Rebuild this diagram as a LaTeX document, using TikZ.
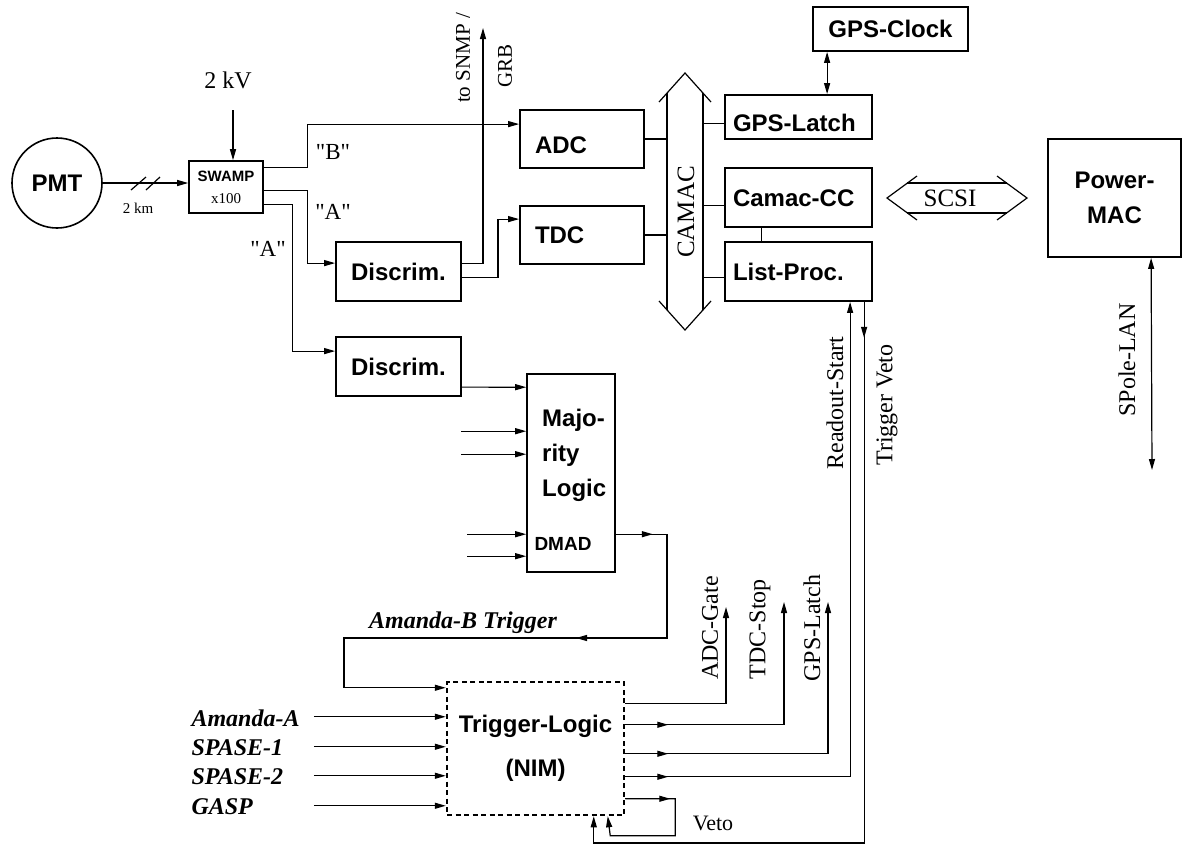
\documentclass[tikz,border=0pt]{standalone}
\usepackage{fontspec}
\setmainfont{Liberation Serif}
\setsansfont{Liberation Sans}
\newfontfamily\qfont{Liberation Serif}
\usetikzlibrary{arrows.meta,calc}
\newcommand{\myfs}[1]{\fontsize{#1}{#1}\selectfont}
\tikzset{
 conn/.style={line width=1.2pt},
 arr/.style={conn, -{Triangle[length=11pt,width=6pt]}},
 darr/.style={conn, {Triangle[length=11pt,width=6pt]}-{Triangle[length=11pt,width=6pt]}},
 box/.style={draw, line width=1.8pt, inner sep=0pt, font=\sffamily\bfseries\myfs{24}},
 lbox/.style={box, align=left, text height=17pt, text depth=0pt},
 bi/.style={font=\bfseries\itshape\myfs{24}},
 quo/.style={font=\qfont\myfs{23}},
}
\begin{document}
\begin{tikzpicture}[x=1pt,y=-1pt]
\fill[white] (0,0) rectangle (1188,844);
\useasboundingbox (0,0) rectangle (1188,844);

% PMT and SWAMP
\node[circle, draw, line width=1.6pt, minimum size=90pt, inner sep=0pt, font=\sffamily\bfseries\myfs{24}] (pmt) at (57,183) {PMT};
\node[box, line width=1.6pt, minimum width=74pt, minimum height=52pt, align=center, font=\myfs{15}] (swamp) at (226,187) {\textsf{\bfseries SWAMP}\\[7pt]x100};
\draw[arr] (pmt.east) -- (pmt.east -| swamp.west);
\draw[conn] (131,190) -- (146,177);
\draw[conn] (146,190) -- (160,177);
\node[font=\myfs{15}] (km) at (138,208) {2 km};
\node[font=\myfs{24}] (kv) at (228,80) {2 kV};
\coordinate (hv) at (233,110);
\draw[arr] (hv) -- (hv |- swamp.north);

% Discriminators
\node[box, minimum width=125pt, minimum height=59pt] (disc1) at (398.5,271.5) {Discrim.};
\node[box, minimum width=125pt, minimum height=59pt] (disc2) at (398.5,366.5) {Discrim.};

% ADC / TDC
\node[lbox, minimum width=124pt, minimum height=58pt, text width=94pt, inner xsep=15pt] (adc) at (582,139) {\raisebox{-6pt}{ADC}};
\node[lbox, minimum width=124pt, minimum height=58pt, text width=94pt, inner xsep=15pt] (tdc) at (582,235) {TDC};

% SWAMP outputs
\draw[arr] ($(swamp.north east)+(0,7)$) -- ++(44,0) |- ($(adc.north west)+(0,15)$);
\draw[arr] ($(swamp.north east)+(0,30)$) -- ++(44,0) |- ($(disc1.north west)+(0,22)$);
\draw[arr] ($(swamp.north east)+(0,44)$) -- ++(29,0) |- ($(disc2.north west)+(0,15)$);
\node[quo] (lB) at (333,152) {"B"};
\node[quo] (lA1) at (333,212) {"A"};
\node[quo] (lA2) at (268,249) {"A"};

% to SNMP / GRB
\coordinate (snmp) at (483,28);
\draw[arr] ($(disc1.north east)+(0,22)$) -| (snmp);
\node[rotate=90, font=\myfs{21}] (tsnmp) at (463,58) {to SNMP /};
\node[rotate=90, font=\myfs{21}] (tgrb) at (505,66) {GRB};
\draw[arr] ($(disc1.north east)+(0,36)$) -- ++(36,0) |- ($(tdc.north west)+(0,14)$);

% CAMAC bus
\draw[conn] (659,102) -- (685,73) -- (711,102);
\draw[conn] (659,301) -- (685,330) -- (711,301);
\draw[conn] (667,93) -- (667,310);
\draw[conn] (703,93) -- (703,310);
\coordinate (camL) at (667,200);
\coordinate (camR) at (703,200);
\node[rotate=90, font=\myfs{25}] (camac) at (686,212) {CAMAC};
\draw[conn] (adc.east) -- (adc.east -| camL);
\draw[conn] (tdc.east) -- (tdc.east -| camL);

% right column boxes
\node[lbox, minimum width=147pt, minimum height=44pt, text width=131pt, inner xsep=8pt] (gpsl) at (798.5,117) {\raisebox{-6pt}{GPS-Latch}};
\node[lbox, minimum width=147pt, minimum height=59pt, text width=131pt, inner xsep=8pt] (camcc) at (798.5,197.5) {Camac-CC};
\node[lbox, minimum width=147pt, minimum height=59pt, text width=131pt, inner xsep=8pt] (listp) at (798.5,271.5) {List-Proc.};
\draw[conn] ($(gpsl.north west)+(0,29)$) -- ++(-22,0);
\draw[conn] ($(camcc.north west)+(0,38)$) -- ++(-22,0);
\draw[conn] ($(listp.north west)+(0,36)$) -- ++(-22,0);
\draw[conn] ($(camcc.south west)+(37,0)$) -- ($(listp.north west)+(37,0)$);

\node[box, minimum width=155pt, minimum height=44pt] (gpsc) at (890.5,29) {GPS-Clock};
\draw[darr] ($(gpsc.south west)+(15,0)$) -- ($(gpsl.north west)+(103,0)$);

% SCSI
\draw[conn] (917,176) -- (887,198) -- (917,220);
\draw[conn] (997,176) -- (1027,198) -- (997,220);
\draw[conn] (907,183) -- (1007,183);
\draw[conn] (907,213) -- (1007,213);
\node[font=\myfs{25}] (scsi) at (950,198) {SCSI};

% Power-MAC
\node[box, minimum width=133pt, minimum height=118pt, align=center, font=\sffamily\bfseries\fontsize{24}{35}\selectfont] (pmac) at (1114.5,198) {Power-\\MAC};
\coordinate (lan) at (1152,470);
\draw[darr] ($(pmac.south west)+(104,0)$) -- (lan);
\node[rotate=90, font=\myfs{24}] (lantxt) at (1127,360) {SPole-LAN};

% Majority logic
\node[draw, line width=1.6pt, minimum width=88pt, minimum height=198pt] (maj) at (571,473) {};
\node[anchor=west, align=left, inner sep=0pt, font=\sffamily\bfseries\fontsize{24}{35}\selectfont] (majt) at (542,455) {Majo-\\rity\\Logic};
\node[font=\sffamily\bfseries\myfs{19}] (dmad) at (563,544) {DMAD};
\draw[arr] ($(disc2.north east)+(0,51)$) -- ($(maj.north west)+(0,14)$);
\draw[arr] ($(maj.north west)+(-65,58)$) -- ++(65,0);
\draw[arr] ($(maj.north west)+(-65,81)$) -- ++(65,0);
\draw[arr] ($(maj.north west)+(-59,161)$) -- ++(59,0);
\draw[arr] ($(maj.north west)+(-59,183)$) -- ++(59,0);

% Trigger logic
\node[draw, line width=2.5pt, dash pattern=on 5pt off 3.5pt, minimum width=177pt, minimum height=133pt, align=center, font=\sffamily\bfseries\fontsize{24}{44}\selectfont] (trig) at (535.5,748.5) {Trigger-Logic\\(NIM)};

% Amanda-B trigger loop
\coordinate (abR) at (667,638);
\coordinate (abL) at (344,638);
\draw[arr] ($(maj.north east)+(0,161)$) -| (abR) -- (abL) |- ($(trig.north west)+(0,7)$);
\draw[arr] ($(maj.north east)+(0,161)$) -- ++(37,0);
\draw[arr] (abR) -- ++(-91,0);
\node[bi] (abtxt) at (463,623) {Amanda-B Trigger};

% external inputs
\node[bi, anchor=west] (iA) at (188,718) {Amanda-A};
\node[bi, anchor=west] (iS1) at (188,748) {SPASE-1};
\node[bi, anchor=west] (iS2) at (188,777) {SPASE-2};
\node[bi, anchor=west] (iG) at (188,807) {GASP};
\draw[arr] ($(trig.north west)+(-132,36)$) -- ++(132,0);
\draw[arr] ($(trig.north west)+(-132,66)$) -- ++(132,0);
\draw[arr] ($(trig.north west)+(-132,95)$) -- ++(132,0);
\draw[arr] ($(trig.north west)+(-132,125)$) -- ++(132,0);

% trigger outputs
\coordinate (adcg) at (726,607);
\coordinate (tdcs) at (784,602);
\coordinate (gpsls) at (828,602);
\draw[arr] ($(trig.north east)+(0,23)$) -| (adcg);
\draw[arr] ($(trig.north east)+(0,44)$) -| (tdcs);
\draw[arr] ($(trig.north east)+(0,44)$) -- ++(43,0);
\draw[arr] ($(trig.north east)+(0,73)$) -| (gpsls);
\draw[arr] ($(trig.north east)+(0,73)$) -- ++(43,0);
\draw[arr] ($(trig.north east)+(0,96)$) -| ($(listp.south west)+(126,0)$);
\draw[arr] ($(trig.north east)+(0,96)$) -- ++(43,0);
\node[rotate=90, font=\myfs{24}] (tADC) at (710,628) {ADC-Gate};
\node[rotate=90, font=\myfs{24}] (tTDC) at (760,629) {TDC-Stop};
\node[rotate=90, font=\myfs{24}] (tGPS) at (812,628) {GPS-Latch};

% veto loop
\draw[arr] ($(trig.north east)+(0,118)$) -- ++(50,0) -- ++(0,37) -- ++(-65,0) -- ($(trig.south west)+(162,0)$);
\draw[arr] ($(trig.north east)+(0,118)$) -- ++(45,0);
\node[font=\myfs{22}] (veto) at (713,823) {Veto};

% trigger veto from list processor
\draw[arr] ($(listp.south west)+(140,0)$) -- ++(0,541) -| ($(trig.south west)+(148,0)$);
\draw[arr] ($(listp.south west)+(140,0)$) -- ++(0,36);
\node[rotate=90, font=\myfs{24}] (rs) at (835,403) {Readout-Start};
\node[rotate=90, font=\myfs{24}] (tv) at (887,405) {Trigger Veto};
\end{tikzpicture}
\end{document}
